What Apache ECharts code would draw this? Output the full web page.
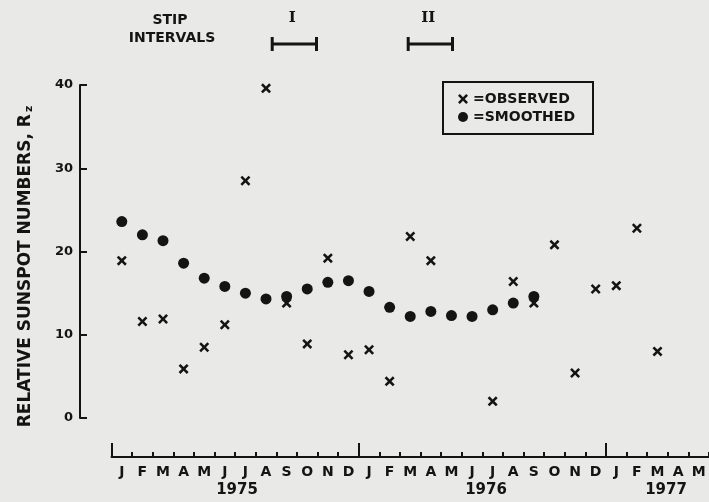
<!DOCTYPE html>
<html>
<head>
<meta charset="utf-8">
<script src="https://cdn.jsdelivr.net/npm/echarts@6/dist/echarts.min.js"></script>
<style>
  html, body { margin: 0; padding: 0; background: #e9e9e8; }
  #main { width: 709px; height: 502px; }
</style>
</head>
<body>
<div id="main"></div>
<script>
// months Jan 1975 .. May 1977
var categories = ['Jan 75','Feb 75','Mar 75','Apr 75','May 75','Jun 75','Jul 75','Aug 75','Sep 75','Oct 75','Nov 75','Dec 75',
                  'Jan 76','Feb 76','Mar 76','Apr 76','May 76','Jun 76','Jul 76','Aug 76','Sep 76','Oct 76','Nov 76','Dec 76',
                  'Jan 77','Feb 77','Mar 77','Apr 77','May 77'];
var monthLetters = ['J','F','M','A','M','J','J','A','S','O','N','D',
                    'J','F','M','A','M','J','J','A','S','O','N','D',
                    'J','F','M','A','M'];
var yearStartIdx = [0, 12, 24];

var observed = [18.9, 11.6, 11.9, 5.9, 8.5, 11.2, 28.5, 39.6, 13.8, 8.9, 19.2, 7.6,
                8.2, 4.4, 21.8, 18.9, null, null, 2.0, 16.4, 13.8, 20.8, 5.4, 15.5,
                15.9, 22.8, 8.0, null, null];
var smoothed = [23.6, 22.0, 21.3, 18.6, 16.8, 15.8, 15.0, 14.3, 14.6, 15.5, 16.3, 16.5,
                15.2, 13.3, 12.2, 12.8, 12.3, 12.2, 13.0, 13.8, 14.6, null, null, null,
                null, null, null, null, null];

// STIP intervals, in months since start of Jan 1975
var stipNames = ['I', 'II'];
var stipStart = [7.8, 14.4];
var stipEnd = [9.95, 16.55];

var years = ['1975', '1976', '1977'];

var ink = '#141414';
var font = 'DejaVu Sans';
var crossPath = 'path://M0,1.8L1.8,0L5,3.2L8.2,0L10,1.8L6.8,5L10,8.2L8.2,10L5,6.8L1.8,10L0,8.2L3.2,5Z';

var myChart = echarts.init(document.getElementById('main'));

var option = {
    backgroundColor: '#e9e9e8',
    animation: false,
    grid: [
        { left: 111.5, right: 0, top: 85, bottom: 84 },
        // STIP interval brackets
        { left: 111.5, right: 0, top: 37, height: 14 }
    ],
    legend: {
        orient: 'vertical',
        left: 443,
        top: 82,
        borderColor: ink,
        borderWidth: 2,
        padding: [10, 18, 10, 15],
        itemGap: 4,
        itemWidth: 10,
        itemHeight: 10,
        data: [
            { name: 'OBSERVED', icon: crossPath },
            { name: 'SMOOTHED', icon: 'circle' }
        ],
        formatter: '={name}',
        textStyle: { color: ink, fontFamily: font, fontWeight: 'bold', fontSize: 14, lineHeight: 14 }
    },
    xAxis: [
        {
            type: 'category', gridIndex: 0, data: categories, position: 'bottom', offset: 39,
            boundaryGap: true,
            axisLine: { onZero: false, lineStyle: { color: ink, width: 2 } },
            axisTick: { show: true, inside: true, length: 5, lineStyle: { color: ink, width: 2 } },
            axisLabel: {
                interval: 0, margin: 8, color: ink, fontFamily: font, fontWeight: 'bold', fontSize: 14,
                formatter: function (v, i) { return monthLetters[i]; }
            },
            splitLine: { show: false }
        },
        {
            // taller ticks where each year starts
            type: 'value', gridIndex: 0, min: 0, max: categories.length, position: 'bottom', offset: 39,
            axisLine: { show: false, onZero: false },
            axisLabel: { show: false },
            splitLine: { show: false },
            axisTick: { show: true, inside: true, length: 14, customValues: yearStartIdx, lineStyle: { color: ink, width: 2 } }
        },
        { type: 'value', gridIndex: 1, min: 0, max: categories.length, show: false, axisLine: { onZero: false } }
    ],
    yAxis: [
        {
            type: 'value', gridIndex: 0, min: 0, max: 40, interval: 10, position: 'left', offset: 31.5,
            axisLine: { show: true, onZero: false, lineStyle: { color: ink, width: 2 } },
            axisTick: { show: true, inside: true, length: 7, lineStyle: { color: ink, width: 2 } },
            splitLine: { show: false },
            axisLabel: { margin: 7, color: ink, fontFamily: font, fontWeight: 'bold', fontSize: 13 },
            name: '{a|RELATIVE SUNSPOT NUMBERS, R}{b|z}',
            nameLocation: 'middle',
            nameRotate: 90,
            nameGap: 45,
            nameTextStyle: {
                padding: [0, 30, 0, 0],
                rich: {
                    a: { color: ink, fontFamily: font, fontWeight: 'bold', fontSize: 17 },
                    b: { color: ink, fontFamily: font, fontWeight: 'bold', fontSize: 11, verticalAlign: 'bottom', padding: [7, 0, 0, 2] }
                }
            }
        },
        { type: 'value', gridIndex: 1, min: 0, max: 1, show: false, axisLine: { onZero: false } }
    ],
    graphic: [
        { type: 'text', x: 170, y: 20, style: { text: 'STIP', fill: ink, font: 'bold 14px "DejaVu Sans"', align: 'center', verticalAlign: 'middle' } },
        { type: 'text', x: 172, y: 38, style: { text: 'INTERVALS', fill: ink, font: 'bold 14px "DejaVu Sans"', align: 'center', verticalAlign: 'middle' } },
        { type: 'text', x: 237, y: 490, style: { text: years[0], fill: ink, font: 'bold 15px "DejaVu Sans"', align: 'center', verticalAlign: 'middle' } },
        { type: 'text', x: 486, y: 490, style: { text: years[1], fill: ink, font: 'bold 15px "DejaVu Sans"', align: 'center', verticalAlign: 'middle' } },
        { type: 'text', x: 666, y: 490, style: { text: years[2], fill: ink, font: 'bold 15px "DejaVu Sans"', align: 'center', verticalAlign: 'middle' } }
    ],
    series: [
        {
            name: 'OBSERVED', type: 'scatter', xAxisIndex: 0, yAxisIndex: 0,
            symbol: crossPath, symbolSize: 10,
            itemStyle: { color: ink, opacity: 1 },
            data: observed
        },
        {
            name: 'SMOOTHED', type: 'scatter', xAxisIndex: 0, yAxisIndex: 0,
            symbol: 'circle', symbolSize: 11,
            itemStyle: { color: ink, opacity: 1 },
            data: smoothed
        },
        {
            name: 'STIP', type: 'custom', xAxisIndex: 2, yAxisIndex: 1, silent: true,
            data: stipStart.map(function (s, i) { return [s, stipEnd[i], i]; }),
            renderItem: function (params, api) {
                var a = api.coord([api.value(0), 0.5]);
                var b = api.coord([api.value(1), 0.5]);
                var h = api.size([0, 1])[1];
                var st = { stroke: ink, lineWidth: 3 };
                return {
                    type: 'group',
                    children: [
                        { type: 'line', shape: { x1: a[0], y1: a[1], x2: b[0], y2: b[1] }, style: st },
                        { type: 'line', shape: { x1: a[0], y1: a[1] - h / 2, x2: a[0], y2: a[1] + h / 2 }, style: st },
                        { type: 'line', shape: { x1: b[0], y1: b[1] - h / 2, x2: b[0], y2: b[1] + h / 2 }, style: st },
                        {
                            type: 'text', x: (a[0] + b[0]) / 2 - 2, y: a[1] - 26,
                            style: { text: stipNames[api.value(2)], fill: ink, font: 'bold 15px "DejaVu Serif"', align: 'center', verticalAlign: 'middle' }
                        }
                    ]
                };
            }
        }
    ]
};

option && myChart.setOption(option);
window.onresize = myChart.resize;
</script>
</body>
</html>
